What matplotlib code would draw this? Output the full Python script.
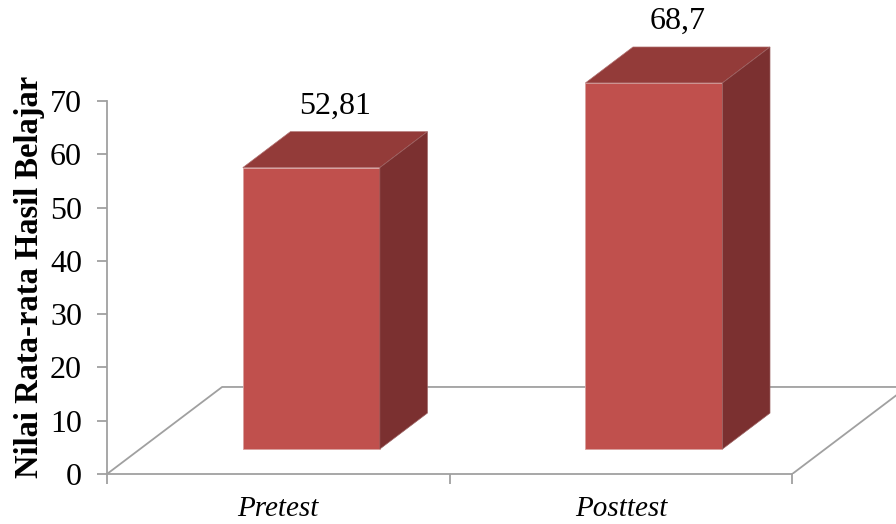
import numpy as np
import matplotlib.pyplot as plt
from matplotlib.patches import Polygon

plt.rcParams['font.family'] = ['Liberation Serif', 'DejaVu Serif']

# data
kategori = ['Pretest', 'Posttest']
nilai = [52.81, 68.7]
label_nilai = ['52,81', '68,7']

# oblique "3D" look: depth offset in data units
DX = 0.336      # horizontal shift of the floor depth (category units)
DY = 16.33      # vertical shift of the floor depth (value units)
D0, D1 = 0.287, 0.70   # bar front / back depth as fraction of the floor
LEBAR = 0.40

c_depan = '#C0504D'
c_atas = '#933B39'
c_sisi = '#7B3030'
c_garis = '#A0A0A0'

fig = plt.figure(figsize=(8.96, 5.24), dpi=100)
ax = fig.add_axes([107 / 896, 1 - 474 / 524, 1 - 107 / 896, 474 / 524])
ax.set_xlim(-0.5, 1.803)
ax.set_ylim(0, 88.95)

x = np.arange(len(kategori))

# floor outline
ax.plot([-0.5, -0.5 + DX, 1.5 + DX + 1], [0, DY, DY], color=c_garis, lw=1.3, zorder=1)
ax.plot([1.5, 1.5 + DX], [0, DY], color=c_garis, lw=1.3, zorder=1)

# front faces
xf = x + D0 * DX
bf = D0 * DY
ax.bar(xf, nilai, width=LEBAR, bottom=bf, color=c_depan, edgecolor='#D9A09E',
       linewidth=0.6, zorder=3)

# top and side faces
tebal_x = (D1 - D0) * DX
tebal_y = (D1 - D0) * DY
for xi, v in zip(xf, nilai):
    kiri, kanan = xi - LEBAR / 2, xi + LEBAR / 2
    atas = bf + v
    ax.add_patch(Polygon([(kiri, atas), (kanan, atas), (kanan + tebal_x, atas + tebal_y),
                          (kiri + tebal_x, atas + tebal_y)], closed=True,
                         facecolor=c_atas, edgecolor='#B07070', lw=0.5, zorder=3))
    ax.add_patch(Polygon([(kanan, bf), (kanan, atas), (kanan + tebal_x, atas + tebal_y),
                          (kanan + tebal_x, bf + tebal_y)], closed=True,
                         facecolor=c_sisi, edgecolor='#9A6060', lw=0.5, zorder=3))

# value labels
for xi, v, t in zip(x, nilai, label_nilai):
    ax.text(xi + 0.165, v + D1 * DY + 4.8, t, ha='center', va='center', fontsize=23)

# axes styling
for s in ['top', 'right']:
    ax.spines[s].set_visible(False)
ax.spines['left'].set_bounds(0, 70)
ax.spines['bottom'].set_bounds(-0.5, 1.5)
for s in ['left', 'bottom']:
    ax.spines[s].set_color(c_garis)
    ax.spines[s].set_linewidth(1.3)

ax.set_yticks(range(0, 71, 10))
ax.tick_params(axis='y', length=7, width=1.3, color=c_garis, pad=11, labelsize=23)
ax.set_xticks(x)
ax.set_xticklabels(kategori, fontstyle='italic', fontsize=21)
ax.tick_params(axis='x', which='major', length=0, pad=16)
ax.set_xticks([-0.5, 0.5, 1.5], minor=True)
ax.tick_params(axis='x', which='minor', length=7, width=1.3, color=c_garis)

fig.text(30 / 896, 1 - 277 / 524, 'Nilai Rata-rata Hasil Belajar', rotation=90,
         ha='center', va='center', fontsize=23.5, fontweight='bold')

fig.savefig('out.png', dpi=100)
